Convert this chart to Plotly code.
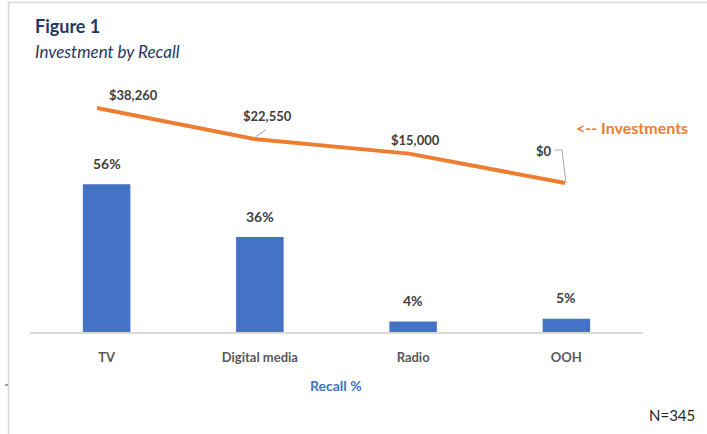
import plotly.graph_objects as go

categories = ["TV", "Digital media", "Radio", "OOH"]
recall_pct = [56, 36, 4, 5]
investments = [38260, 22550, 15000, 0]
title_text = "Figure 1"
subtitle_text = "Investment by Recall"
axis_title = "Recall %"
line_name = "<-- Investments"
sample_note = "N=345"

BLUE = "#4472C4"
ORANGE = "#ED7D31"
NAVY = "#1F3864"
LABEL = "#404040"
FONT = "Lato"

W, H = 707, 434
L, R, T, B = 30, 64, 80, 102
pw, ph = W - L - R, H - T - B


def px(xp):
    return (xp - L) / pw


def py(yp):
    return (H - B - yp) / ph


fig = go.Figure()
fig.add_trace(go.Bar(x=categories, y=recall_pct, marker_color=BLUE,
                     marker_line_width=0, hoverinfo="skip", showlegend=False))
fig.add_trace(go.Scatter(x=categories, y=investments, mode="lines",
                         line=dict(color=ORANGE, width=4), xaxis="x2", yaxis="y2",
                         hoverinfo="skip", showlegend=False))

ann = []
for c, v in zip(categories, recall_pct):
    ann.append(dict(x=c, y=v, xref="x", yref="y", text=f"{v}%", showarrow=False,
                    yshift=21, font=dict(family=FONT, size=14, color=LABEL, weight="bold")))

shifts = [(36, 13), (14, 23), (6, 14), (-21, 32)]
for c, v, (sx, sy) in zip(categories, investments, shifts):
    ann.append(dict(x=c, y=v, xref="x2", yref="y2", text=f"${v:,}", showarrow=False,
                    xshift=sx, yshift=sy,
                    font=dict(family=FONT, size=13, color=LABEL, weight="bold")))

ann += [
    dict(x=px(33), y=py(26), xref="paper", yref="paper", text=title_text, showarrow=False,
         xanchor="left", yanchor="middle",
         font=dict(family=FONT, size=18, color=NAVY, weight="bold")),
    dict(x=px(33), y=py(52), xref="paper", yref="paper", text=f"<i>{subtitle_text}</i>",
         showarrow=False, xanchor="left", yanchor="middle",
         font=dict(family=FONT, size=17, color=NAVY)),
    dict(x=px(632), y=py(127), xref="paper", yref="paper", text=line_name, showarrow=False,
         xanchor="center", yanchor="middle",
         font=dict(family=FONT, size=16, color=ORANGE, weight="bold")),
    dict(x=px(336), y=py(385), xref="paper", yref="paper", text=axis_title, showarrow=False,
         xanchor="center", yanchor="middle",
         font=dict(family=FONT, size=14, color=BLUE, weight="bold")),
    dict(x=px(672), y=py(415), xref="paper", yref="paper", text=sample_note, showarrow=False,
         xanchor="center", yanchor="middle",
         font=dict(family=FONT, size=15, color="#262626")),
]

shapes = [
    # frame (left and top edges)
    dict(type="path", xref="paper", yref="paper",
         path=f"M {px(8.5)} {py(434)} L {px(8.5)} {py(2.5)} L {px(707)} {py(2.5)}",
         line=dict(color="#D9D9D9", width=1.5)),
    dict(type="line", xref="paper", yref="paper", x0=px(5), x1=px(8), y0=py(385), y1=py(385),
         line=dict(color="#404040", width=1)),
    # leader lines
    dict(type="path", xref="x2", yref="y2", xsizemode="pixel", ysizemode="pixel",
         xanchor=categories[1], yanchor=investments[1], path="M 1 1 L 13 9",
         line=dict(color="#A6A6A6", width=1)),
    dict(type="path", xref="x2", yref="y2", xsizemode="pixel", ysizemode="pixel",
         xanchor=categories[3], yanchor=investments[3], path="M 1 0 L -3 33 L -10 33",
         line=dict(color="#A6A6A6", width=1)),
]

fig.update_layout(
    width=W, height=H, margin=dict(l=L, r=R, t=T, b=B, pad=0),
    paper_bgcolor="white", plot_bgcolor="white",
    bargap=0.69, annotations=ann, shapes=shapes,
    xaxis=dict(showgrid=False, zeroline=False, showline=True, linecolor="#D9D9D9",
               linewidth=2, ticks="", ticklabelstandoff=12,
               tickfont=dict(family=FONT, size=13, color="#595959", weight="bold"),
               range=[-0.5, 3.5]),
    yaxis=dict(visible=False, range=[0, 95.5]),
    xaxis2=dict(overlaying="x", visible=False, range=[-0.43, 3.5]),
    yaxis2=dict(overlaying="y", visible=False, range=[-76000, 52550]),
)

fig.write_html("out.html")
